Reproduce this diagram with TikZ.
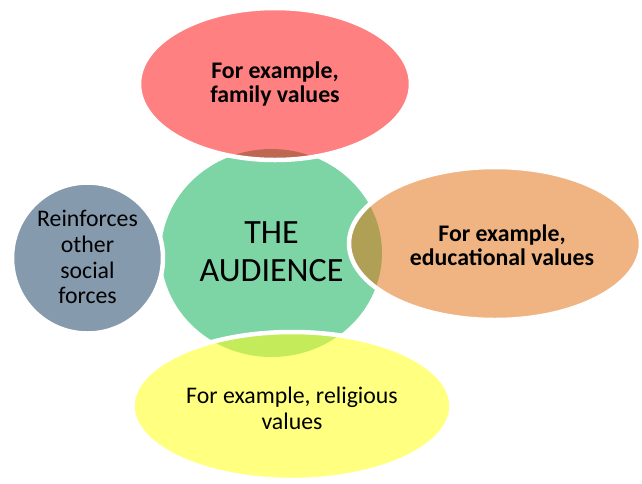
\documentclass[tikz,border=0pt]{standalone}
\usepackage{fontspec}
\setmainfont{Carlito}
\definecolor{hubgreen}{RGB}{125,213,166}
\definecolor{famred}{RGB}{255,128,128}
\definecolor{famover}{RGB}{188,104,82}
\definecolor{eduorange}{RGB}{240,180,130}
\definecolor{eduover}{RGB}{176,160,86}
\definecolor{relyellow}{RGB}{255,255,128}
\definecolor{relover}{RGB}{195,235,90}
\definecolor{socgray}{RGB}{134,154,174}
\definecolor{socover}{RGB}{70,130,125}
\tikzset{
  rim/.style={draw=white, line width=4.5pt},
  label/.style={align=center, text=black, inner sep=0pt},
  boldlabel/.style={label, font=\fontsize{23.8}{24.5}\selectfont\bfseries},
  plainlabel/.style={label, font=\fontsize{23.8}{25.8}\selectfont},
}
\begin{document}
\begin{tikzpicture}[x=1pt, y=-1pt]
  \useasboundingbox (0,0) rectangle (642,483);
  % central circle
  \fill[hubgreen] (271.5,253) ellipse [x radius=110.5, y radius=104];
  % family values (top)
  \fill[famred] (275,84) ellipse [x radius=136, y radius=76];
  \begin{scope}
    \clip (275,84) ellipse [x radius=136, y radius=76];
    \fill[famover] (271.5,253) ellipse [x radius=110.5, y radius=104];
  \end{scope}
  \draw[rim] (275,84) ellipse [x radius=136, y radius=76];
  % educational values (right)
  \fill[eduorange] (495,243.5) ellipse [x radius=146, y radius=76.5];
  \begin{scope}
    \clip (495,243.5) ellipse [x radius=146, y radius=76.5];
    \fill[eduover] (271.5,253) ellipse [x radius=110.5, y radius=104];
  \end{scope}
  \draw[rim] (495,243.5) ellipse [x radius=146, y radius=76.5];
  % religious values (bottom)
  \fill[relyellow] (292,406) ellipse [x radius=159.5, y radius=74];
  \begin{scope}
    \clip (292,406) ellipse [x radius=159.5, y radius=74];
    \fill[relover] (271.5,253) ellipse [x radius=110.5, y radius=104];
  \end{scope}
  \draw[rim] (292,406) ellipse [x radius=159.5, y radius=74];
  % other social forces (left)
  \fill[socgray] (87.5,258) circle [radius=75.5];
  \begin{scope}
    \clip (87.5,258) circle [radius=75.5];
    \fill[socover] (271.5,253) ellipse [x radius=110.5, y radius=104];
  \end{scope}
  \draw[rim] (87.5,258) circle [radius=75.5];
  % texts
  \node[label, font=\fontsize{34}{38}\selectfont] (hub) at (271.5,252) {THE\\AUDIENCE};
  \node[boldlabel] (family) at (275,84) {For example,\\family values};
  \node[boldlabel] (education) at (502,245) {For example,\\educational values};
  \node[plainlabel] (religion) at (292,408) {For example, religious\\values};
  \node[plainlabel] (social) at (87.5,257) {Reinforces\\other\\social\\forces};
\end{tikzpicture}
\end{document}
